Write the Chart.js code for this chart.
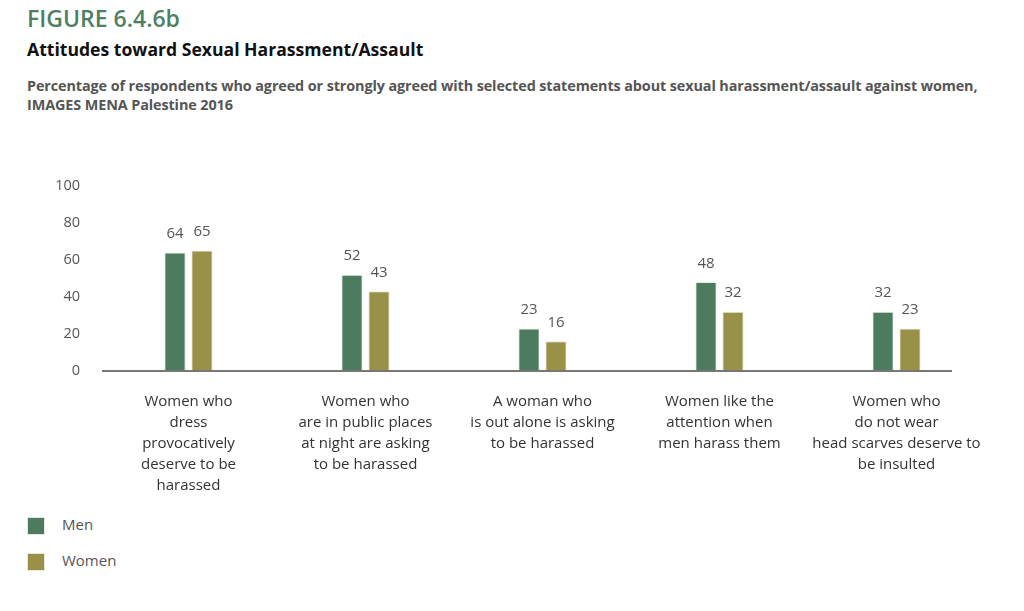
<!DOCTYPE html>
<html><head><meta charset="utf-8">
<script src="https://cdn.jsdelivr.net/npm/chart.js@4"></script>
<style>
html,body{margin:0;padding:0;background:#fff;width:1024px;height:611px;overflow:hidden;font-family:"Open Sans",sans-serif;}
#fig{position:absolute;left:27px;top:2px;font-size:23px;font-weight:600;color:#4f7f62;letter-spacing:0px;}
#ttl{position:absolute;left:27px;top:37px;font-size:17.6px;font-weight:700;color:#111;}
#sub{position:absolute;left:27px;top:76px;width:990px;font-size:14.4px;font-weight:700;color:#555;line-height:19px;letter-spacing:-0.1px;}
#wrap{position:absolute;left:0;top:165px;width:1024px;height:335px;}
.lg{position:absolute;left:27px;width:18px;height:18px;box-sizing:border-box;border:1px solid #e6e6dc;}
.lt{position:absolute;left:62px;font-size:15px;color:#555;}
</style></head><body>
<div id="fig">FIGURE 6.4.6b</div>
<div id="ttl">Attitudes toward Sexual Harassment/Assault</div>
<div id="sub">Percentage of respondents who agreed or strongly agreed with selected statements about sexual harassment/assault against women, IMAGES MENA Palestine 2016</div>
<div id="wrap"><canvas id="c"></canvas></div>
<div class="lg" style="top:517px;background:#4d7b5f"></div><div class="lt" style="top:514px">Men</div>
<div class="lg" style="top:553px;background:#9a9148"></div><div class="lt" style="top:550px">Women</div>
<script>
const categories = [
  ["Women who","dress","provocatively","deserve to be","harassed"],
  ["Women who","are in public places","at night are asking","to be harassed"],
  ["A woman who","is out alone is asking","to be harassed"],
  ["Women like the","attention when","men harass them"],
  ["Women who","do not wear","head scarves deserve to","be insulted"]
];
const menValues = [64, 52, 23, 48, 32];
const womenValues = [65, 43, 16, 32, 23];
const yTicks = [0, 20, 40, 60, 80, 100];

const labelPlugin = {
  id: 'vals',
  afterDatasetsDraw(chart) {
    const ctx = chart.ctx;
    ctx.save();
    ctx.font = '15px "Open Sans"';
    ctx.fillStyle = '#555';
    ctx.textAlign = 'center';
    ctx.textBaseline = 'bottom';
    chart.data.datasets.forEach((ds, i) => {
      chart.getDatasetMeta(i).data.forEach((bar, j) => {
        ctx.fillText(ds.data[j], bar.x, bar.y - 11);
      });
    });
    const y0 = chart.scales.y.getPixelForValue(0);
    ctx.strokeStyle = '#777';
    ctx.lineWidth = 2;
    ctx.beginPath();
    ctx.moveTo(102, y0);
    ctx.lineTo(952, y0);
    ctx.stroke();
    ctx.restore();
  }
};

new Chart(document.getElementById('c'), {
  type: 'bar',
  data: {
    labels: categories,
    datasets: [
      { label: 'Men', data: menValues, backgroundColor: '#4d7b5f', borderColor: '#e8eade', borderWidth: 1 },
      { label: 'Women', data: womenValues, backgroundColor: '#9a9148', borderColor: '#e8eade', borderWidth: 1 }
    ]
  },
  options: {
    responsive: true,
    maintainAspectRatio: false,
    animation: false,
    layout: { padding: { top: 5, right: 39, left: 0, bottom: 0 } },
    datasets: { bar: { categoryPercentage: 0.305, barPercentage: 0.79 } },
    plugins: { legend: { display: false }, tooltip: { enabled: false } },
    scales: {
      x: {
        grid: { display: false },
        border: { display: false },
        ticks: { color: '#333', font: { family: 'Open Sans', size: 15, lineHeight: 1.4 }, padding: 12, maxRotation: 0, autoSkip: false },
        afterFit(s) { s.height = 129; }
      },
      y: {
        min: 0, max: 100,
        grid: { display: false },
        border: { display: false },
        afterBuildTicks(s) { s.ticks = yTicks.map(v => ({ value: v })); },
        ticks: { color: '#555', font: { family: 'Open Sans', size: 14.5 }, padding: 12 },
        afterFit(s) { s.width = 100; }
      }
    }
  },
  plugins: [labelPlugin]
});
</script>
</body></html>
